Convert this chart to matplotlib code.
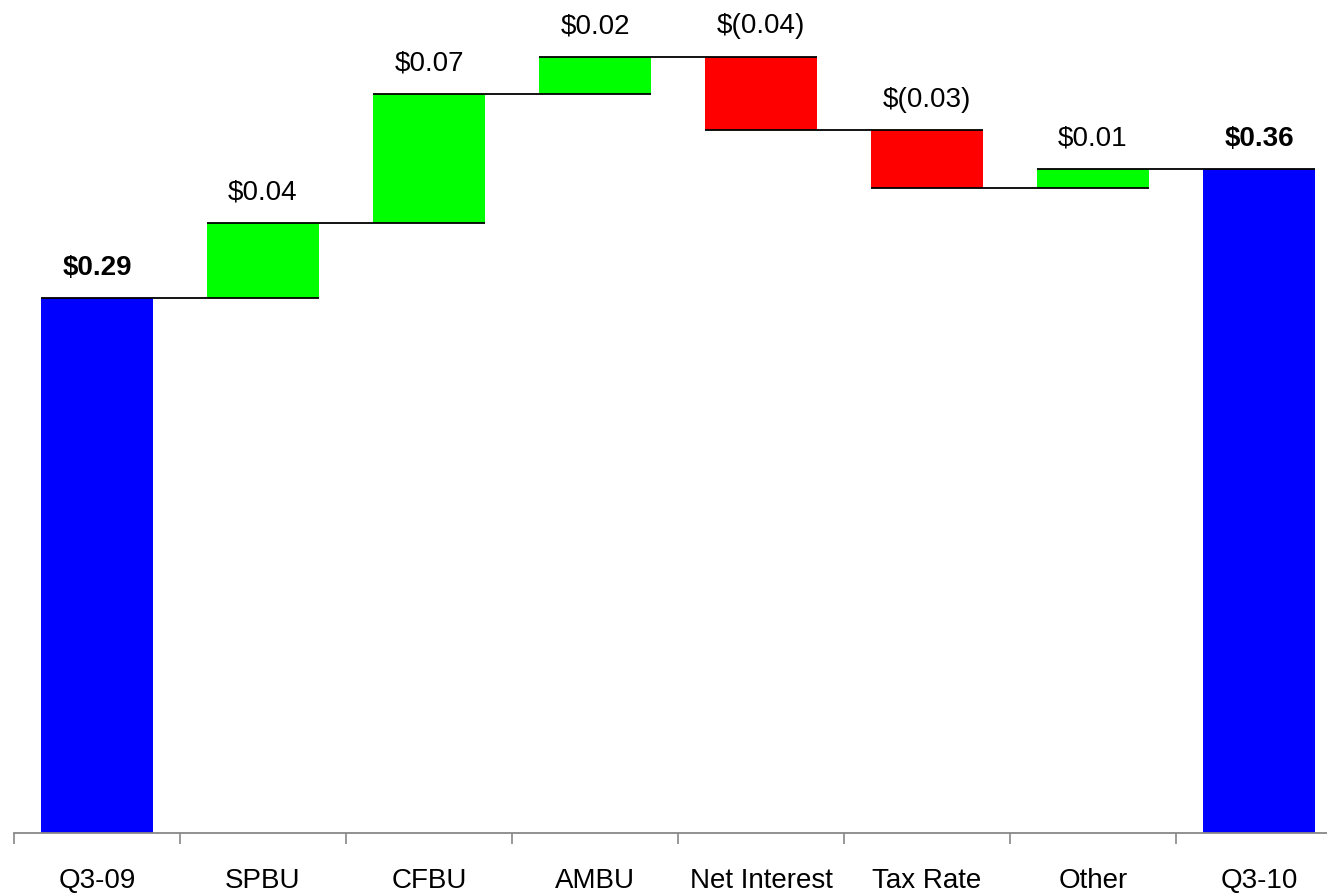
import matplotlib.pyplot as plt
import numpy as np

plt.rcParams['font.family'] = ['Liberation Sans', 'DejaVu Sans']

categories = ['Q3-09', 'SPBU', 'CFBU', 'AMBU', 'Net Interest', 'Tax Rate', 'Other', 'Q3-10']
start_eps = 0.29
deltas = [0.041, 0.070, 0.020, -0.040, -0.031, 0.010]
end_eps = 0.36
labels = ['$0.29', '$0.04', '$0.07', '$0.02', '$(0.04)', '$(0.03)', '$0.01', '$0.36']

BLUE, GREEN, RED = '#0000ff', '#00ff00', '#ff0000'
width = 0.675

# bottoms / tops of each bar
levels = start_eps + np.concatenate([[0], np.cumsum(deltas)])
bottoms = [0.0]
heights = [start_eps]
colors = [BLUE]
for i, d in enumerate(deltas):
    bottoms.append(min(levels[i], levels[i + 1]))
    heights.append(abs(d))
    colors.append(GREEN if d >= 0 else RED)
bottoms.append(0.0)
heights.append(end_eps)
colors.append(BLUE)

fig = plt.figure(figsize=(13.27, 8.95), dpi=100)
ax = fig.add_axes([14 / 1327, 61 / 895, 1328 / 1327, 834 / 895])

x = np.arange(len(categories))
ax.bar(x, heights, bottom=bottoms, width=width, color=colors, linewidth=0, zorder=2)

# connector lines: level after bar i, from left of bar i to right of bar i+1
for i in range(len(categories) - 1):
    lvl = levels[i] if i < len(levels) else end_eps
    ax.plot([x[i] - width / 2, x[i + 1] + width / 2], [lvl, lvl],
            color='black', lw=1.3, zorder=3, solid_capstyle='butt')

# value labels above each bar
for i, lab in enumerate(labels):
    top = bottoms[i] + heights[i]
    bold = i in (0, len(labels) - 1)
    ax.annotate(lab, (x[i], top), xytext=(0, 17.5), textcoords='offset points',
                ha='center', va='baseline', fontsize=20,
                fontweight='bold' if bold else 'normal')

ax.set_xlim(-0.5, len(categories) - 0.5)
ax.set_ylim(0, 0.4523)
ax.set_yticks([])
ax.set_xticks(x)
ax.set_xticklabels(categories, fontsize=20)
ax.set_xticks(np.arange(-0.5, len(categories)), minor=True)
ax.tick_params(axis='x', which='major', length=0, pad=24.5)
ax.tick_params(axis='x', which='minor', length=8, width=1.2, color='#888888', direction='out')
for s in ['top', 'right', 'left']:
    ax.spines[s].set_visible(False)
ax.spines['bottom'].set_color('#888888')
ax.spines['bottom'].set_linewidth(1.3)
ax.patch.set_alpha(0)

fig.savefig('out.png', dpi=100)
